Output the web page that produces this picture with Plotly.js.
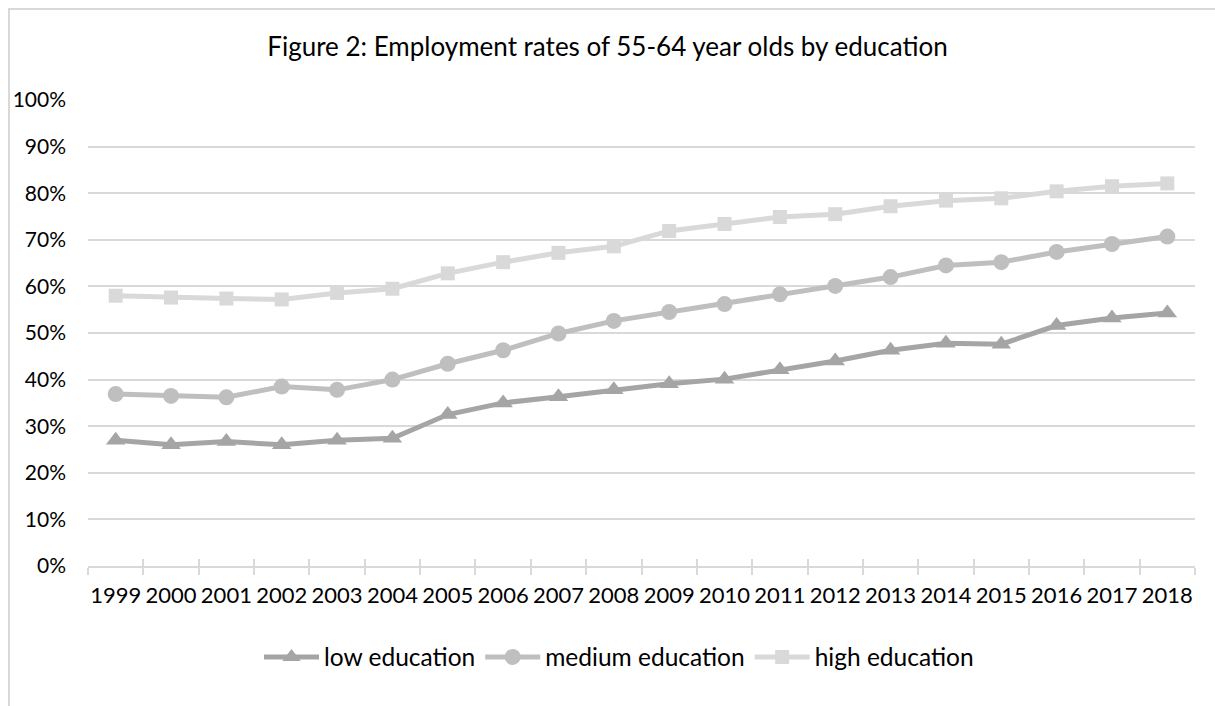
<!DOCTYPE html>
<html>
<head>
<meta charset="utf-8">
<script src="https://cdn.plot.ly/plotly-3.0.1.min.js"></script>
<style>
  html, body { margin: 0; padding: 0; background: #fff; overflow: hidden; }
  #wrap { position: relative; width: 1215px; height: 706px; }
  #chart { position: absolute; left: 0; top: 0; width: 1215px; height: 706px; }
  #frame { position: absolute; left: 8px; top: 8px; width: 1230px; height: 720px;
           border: 2px solid #d9d9d9; box-sizing: border-box; pointer-events: none; }
</style>
</head>
<body>
<div id="wrap">
  <div id="chart"></div>
  <div id="frame"></div>
</div>
<script>
const years = ['1999','2000','2001','2002','2003','2004','2005','2006','2007','2008',
               '2009','2010','2011','2012','2013','2014','2015','2016','2017','2018'];
const lowEducation    = [27.0, 26.0, 26.7, 26.0, 27.0, 27.4, 32.5, 35.0, 36.3, 37.8,
                         39.1, 40.1, 42.1, 44.0, 46.3, 47.8, 47.6, 51.6, 53.2, 54.3];
const mediumEducation = [36.9, 36.5, 36.2, 38.5, 37.8, 40.0, 43.4, 46.3, 49.9, 52.6,
                         54.5, 56.2, 58.3, 60.1, 62.0, 64.5, 65.2, 67.4, 69.1, 70.7];
const highEducation   = [58.0, 57.6, 57.4, 57.2, 58.6, 59.5, 62.8, 65.2, 67.2, 68.6,
                         71.9, 73.4, 74.9, 75.5, 77.2, 78.4, 78.9, 80.4, 81.5, 82.1];
const seriesNames = ['low education', 'medium education', 'high education'];
const yTickVals = [0,10,20,30,40,50,60,70,80,90,100];
const yTickText = yTickVals.map(v => v + '%');

const FONT = 'Lato, "Open Sans", sans-serif';

function series(name, y, color, symbol, size) {
  return {
    type: 'scatter', mode: 'lines+markers', name: name,
    x: years, y: y,
    line: { color: color, width: 5 },
    marker: { color: color, symbol: symbol, size: size },
    hoverinfo: 'x+y+name'
  };
}

// boundary positions for the inner half of the crossing tick marks
const boundaries = years.map((_, i) => i - 0.5).concat([years.length - 0.5]);

const traces = [
  series(seriesNames[0], lowEducation, '#a5a5a5', 'triangle-up', 17),
  series(seriesNames[1], mediumEducation, '#bfbfbf', 'circle', 16),
  series(seriesNames[2], highEducation, '#d9d9d9', 'square', 14),
  { type: 'scatter', x: [], y: [], xaxis: 'x2', showlegend: false, hoverinfo: 'skip' }
];

const layout = {
  width: 1215, height: 706,
  margin: { l: 88, r: 20, t: 100, b: 140 },
  paper_bgcolor: 'rgba(0,0,0,0)', plot_bgcolor: '#fff',
  font: { family: FONT, color: '#000', size: 20 },
  title: {
    text: 'Figure 2: Employment rates of 55-64 year olds by education',
    font: { family: FONT, size: 26, color: '#000' },
    xref: 'container', x: 0.5, xanchor: 'center',
    yref: 'container', y: 1 - 47/706, yanchor: 'middle'
  },
  xaxis: {
    type: 'category',
    range: [-0.5, years.length - 0.5],
    showgrid: false, zeroline: false,
    showline: true, linecolor: '#d9d9d9', linewidth: 1.5,
    ticks: 'outside', tickson: 'boundaries', ticklen: 7, tickwidth: 1.5, tickcolor: '#d9d9d9',
    tickfont: { family: FONT, size: 22, color: '#000' },
    tickangle: 0,
    ticklabelstandoff: 9,
    fixedrange: true
  },
  xaxis2: {
    overlaying: 'x', anchor: 'y', side: 'bottom',
    range: [-0.5, years.length - 0.5],
    tickmode: 'array', tickvals: boundaries,
    showticklabels: false, showgrid: false, zeroline: false, showline: false,
    ticks: 'inside', ticklen: 7, tickwidth: 1.5, tickcolor: '#d9d9d9',
    fixedrange: true
  },
  yaxis: {
    range: [0, 100],
    tickmode: 'array', tickvals: yTickVals, ticktext: yTickText,
    showgrid: true, gridcolor: '#d9d9d9', gridwidth: 1.5,
    zeroline: false, showline: false, ticks: '',
    tickfont: { family: FONT, size: 21, color: '#000' },
    ticklabelstandoff: 21,
    fixedrange: true
  },
  legend: {
    orientation: 'h',
    xref: 'container', x: 619/1215, xanchor: 'center',
    yref: 'container', y: 1 - 657/706, yanchor: 'middle',
    font: { family: FONT, size: 24.5, color: '#000' },
    itemwidth: 55,
    bgcolor: 'rgba(0,0,0,0)',
    traceorder: 'normal'
  },
  showlegend: true,
  hovermode: 'closest'
};

Plotly.newPlot('chart', traces, layout, { displayModeBar: false, responsive: false });
</script>
</body>
</html>
